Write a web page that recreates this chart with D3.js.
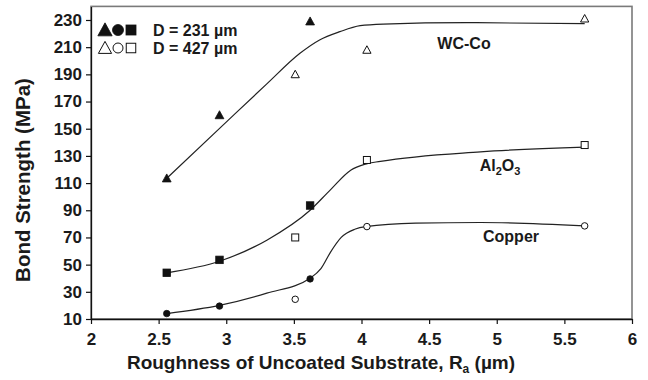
<!DOCTYPE html>
<html><head><meta charset="utf-8">
<script src="https://cdn.jsdelivr.net/npm/d3@7"></script>
<style>
body{margin:0;background:#fff}
text{font-family:"Liberation Sans",Arial,Helvetica,sans-serif;font-weight:bold;fill:#1a1a1a}
</style>
</head><body><svg id="c" width="648" height="380"></svg>
<script>
const xTicks=[2,2.5,3,3.5,4,4.5,5,5.5,6];
const yTicks=[10,30,50,70,90,110,130,150,170,190,210,230];
// D = 231 µm (filled markers)
const wcFilled=[[2.56,113.5],[2.95,160],[3.62,229]];
const alFilled=[[2.56,44],[2.95,53.5],[3.62,93.5]];
const cuFilled=[[2.56,14],[2.95,19.5],[3.62,39.5]];
// D = 427 µm (open markers)
const wcOpen=[[3.51,190],[4.04,208],[5.65,231]];
const alOpen=[[3.51,70],[4.04,127],[5.65,138]];
const cuOpen=[[3.51,24.5],[4.04,78],[5.65,78.5]];
// fitted trend curves
const wcFit=[[2.56,113.5],[2.98,153],[3.3,183],[3.545,205.5],[3.69,215.3],[3.84,221.4],[3.99,225.8],[4.16,227],[4.78,228],[5.65,227.3]];
const alFit=[[2.56,44],[2.95,52.5],[3.3,68],[3.62,90],[3.77,105],[3.92,119.5],[4.03,124],[4.14,126],[4.88,133],[5.65,136.5]];
const cuFit=[[2.56,14],[2.95,20],[3.3,29],[3.62,40],[3.7,47],[3.77,59],[3.85,70],[3.95,76],[4.03,78],[4.4,80.5],[4.88,81],[5.65,78.5]];

const svg=d3.select("#c");
const x=d3.scaleLinear().domain([2,6]).range([91,632]);
const y=d3.scaleLinear().domain([10,240]).range([319,6.4]);

// frame (top/right)
svg.append("rect").attr("x",91).attr("y",y(240)).attr("width",632-91).attr("height",319-y(240))
  .attr("fill","none").attr("stroke","#7a7a7a").attr("stroke-width",1.6);

// axes
const xa=svg.append("g").attr("transform","translate(0,319)")
  .call(d3.axisBottom(x).tickValues(xTicks).tickFormat(d3.format("")).tickSize(5).tickSizeOuter(0));
const ya=svg.append("g").attr("transform","translate(91,0)")
  .call(d3.axisLeft(y).tickValues(yTicks).tickFormat(d3.format("d")).tickSize(5).tickSizeOuter(0));
[xa,ya].forEach(g=>{
  g.select(".domain").attr("stroke","#111").attr("stroke-width",1.3);
  g.selectAll(".tick line").attr("stroke","#111").attr("stroke-width",1.2);
  g.selectAll(".tick text").style("font-size","17px").style("font-weight","bold")
   .style("font-family","'Liberation Sans',Arial,sans-serif").attr("fill","#1a1a1a");
});
xa.selectAll(".tick text").attr("dy","1.05em");
ya.selectAll(".tick text").attr("x",-9);

// curves
const line=d3.line().x(d=>x(d[0])).y(d=>y(d[1])).curve(d3.curveMonotoneX);
[wcFit,alFit,cuFit].forEach(f=>{
  svg.append("path").attr("d",line(f)).attr("fill","none").attr("stroke","#222").attr("stroke-width",1.2);
});

// markers
function marker(g,type,cx,cy,filled,s){
  let el;
  if(type==="tri"){
    el=g.append("path").attr("d",`M${cx},${cy-s*0.55}L${cx+s*0.55},${cy+s*0.45}L${cx-s*0.55},${cy+s*0.45}Z`);
  }else if(type==="circ"){
    el=g.append("circle").attr("cx",cx).attr("cy",cy).attr("r",s/2);
  }else{
    el=g.append("rect").attr("x",cx-s/2).attr("y",cy-s/2).attr("width",s).attr("height",s);
  }
  el.attr("fill",filled?"#111":"#fff").attr("stroke","#111").attr("stroke-width",filled?0.8:1);
}
const mg=svg.append("g");
[[wcFilled,"tri"],[alFilled,"sq"],[cuFilled,"circ"]].forEach(([arr,t])=>{
  arr.forEach(d=>marker(mg,t,x(d[0]),y(d[1]),true,t==="circ"?6.5:t==="tri"?8:7.5));
});
[[wcOpen,"tri"],[alOpen,"sq"],[cuOpen,"circ"]].forEach(([arr,t])=>{
  arr.forEach(d=>marker(mg,t,x(d[0]),y(d[1]),false,t==="circ"?6.5:t==="tri"?7.5:7));
});

// legend
const lg=svg.append("g");
marker(lg,"tri",105,30,true,13);
marker(lg,"circ",118,30,true,11);
marker(lg,"sq",131,30,true,10);
marker(lg,"tri",105,48,false,12);
marker(lg,"circ",118,48,false,10);
marker(lg,"sq",131,48,false,9.5);
lg.append("text").attr("x",153).attr("y",35.5).style("font-size","16px").text("D = 231 µm");
lg.append("text").attr("x",153).attr("y",53.5).style("font-size","16px").text("D = 427 µm");

// series labels
svg.append("text").attr("x",464).attr("y",48.5).attr("text-anchor","middle").style("font-size","16px").text("WC-Co");
const al=svg.append("text").attr("x",500).attr("y",171).attr("text-anchor","middle").style("font-size","16px");
al.append("tspan").text("Al");
al.append("tspan").attr("dy",4).style("font-size","11px").text("2");
al.append("tspan").attr("dy",-4).text("O");
al.append("tspan").attr("dy",4).style("font-size","11px").text("3");
svg.append("text").attr("x",511).attr("y",242).attr("text-anchor","middle").style("font-size","16px").text("Copper");

// axis titles
const xt=svg.append("text").attr("x",321).attr("y",369).attr("text-anchor","middle").style("font-size","19px");
xt.append("tspan").text("Roughness of Uncoated Substrate, R");
xt.append("tspan").attr("dy",4).style("font-size","12px").text("a");
xt.append("tspan").attr("dy",-4).text(" (µm)");
svg.append("text").attr("transform","translate(30,180) rotate(-90)").attr("text-anchor","middle")
  .style("font-size","20.5px").text("Bond Strength (MPa)");
</script></body></html>
